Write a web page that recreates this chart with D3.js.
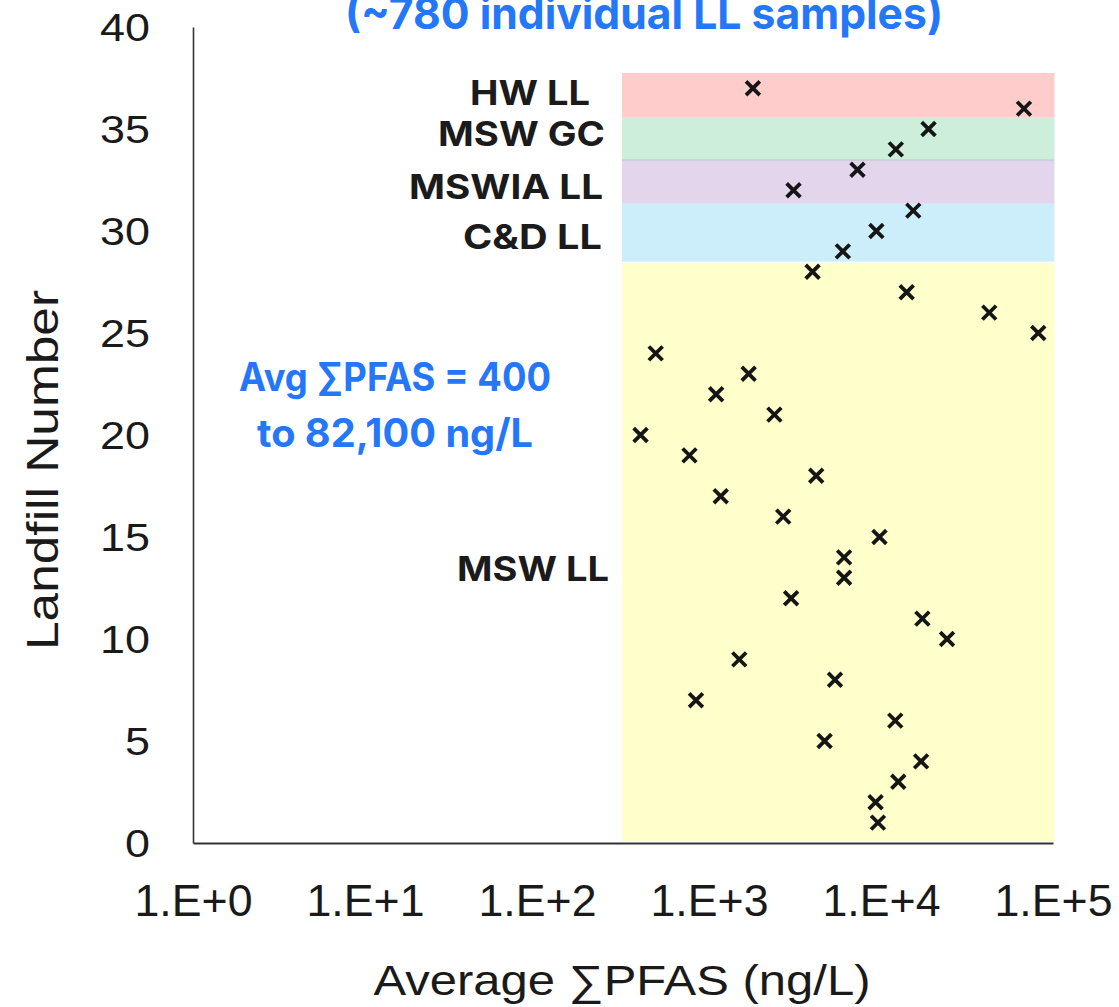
<!DOCTYPE html>
<html>
<head>
<meta charset="utf-8">
<script src="https://cdn.jsdelivr.net/npm/d3@7"></script>
<style>
  html, body { margin: 0; padding: 0; background: #ffffff; }
  svg { display: block; }
</style>
</head>
<body>
<svg id="chart" width="1119" height="1007"></svg>
<script>
// ---- data ----
const landfillNumbers = [1,2,3,4,5,6,7,8,9,10,11,12,13,14,15,16,17,18,19,20,21,22,23,24,25,26,27,28,29,30,31,32,33,34,35,36,37];
const avgPFAS = [9600,9300,12600,17100,4700,12100,840,5400,1500,24200,17400,3000,6100,6100,9800,2700,1170,4200,770,400,2400,1100,1700,490,82100,42600,14100,4000,6000,9400,15400,3100,7300,12200,18900,67800,1800];
const groupNames = ["MSW LL", "C&D LL", "MSWIA LL", "MSW GC", "HW LL"];
const groupLow  = [0.1, 28.5, 31.34, 33.48, 35.59];
const groupHigh = [28.43, 31.34, 33.48, 35.59, 37.75];
const groupColors = ["#FFFFCC", "#CCEEFA", "#E2D5EC", "#CCEEDB", "#FFCCCC"];
const groupXRange = [312, 102000];
const xTickValues = [1, 10, 100, 1000, 10000, 100000];
const xTickLabels = ["1.E+0", "1.E+1", "1.E+2", "1.E+3", "1.E+4", "1.E+5"];
const yTickValues = [0, 5, 10, 15, 20, 25, 30, 35, 40];
const titleText = "(~780 individual LL samples)";
const noteLines = ["Avg ∑PFAS = 400", "to 82,100 ng/L"];
const xTitle = "Average ∑PFAS (ng/L)";
const yTitle = "Landfill Number";

// ---- layout ----
const svg = d3.select("#chart");
const x = d3.scaleLog().domain([1, 100000]).range([193, 1053]);
const y = d3.scaleLinear().domain([0, 40]).range([843, 27]);

// bands
svg.append("g").selectAll("rect")
  .data(groupNames.map((n, i) => ({n, lo: groupLow[i], hi: groupHigh[i], c: groupColors[i]})))
  .join("rect")
  .attr("x", x(groupXRange[0]))
  .attr("width", x(groupXRange[1]) - x(groupXRange[0]))
  .attr("y", d => y(d.hi))
  .attr("height", d => y(d.lo) - y(d.hi))
  .attr("fill", d => d.c);

// thin separator between green and purple
svg.append("line")
  .attr("x1", x(groupXRange[0])).attr("x2", x(groupXRange[1]))
  .attr("y1", y(groupLow[3])).attr("y2", y(groupLow[3]))
  .attr("stroke", "#B4CCC4").attr("stroke-width", 1);

// axes
const xAxis = d3.axisBottom(x).tickValues(xTickValues).tickSize(0).tickSizeOuter(0)
  .tickFormat((d, i) => xTickLabels[i]);
const gx = svg.append("g").attr("transform", "translate(0,843)").call(xAxis);
gx.select(".domain").attr("stroke", "#333").attr("stroke-width", 2.2);
gx.selectAll("text")
  .attr("y", 73).attr("dy", 0)
  .attr("font-family", "'Liberation Sans', Arial, sans-serif")
  .attr("font-size", 44)
  .attr("fill", "#1a1a1a")
  .attr("textLength", 118)
  .attr("lengthAdjust", "spacingAndGlyphs");

const yAxis = d3.axisLeft(y).tickValues(yTickValues).tickSize(0).tickSizeOuter(0);
const gy = svg.append("g").attr("transform", "translate(193,0)").call(yAxis);
gy.select(".domain").attr("stroke", "#333").attr("stroke-width", 1.6);
gy.selectAll("text")
  .attr("x", -43).attr("dy", "0.35em")
  .attr("font-family", "'Liberation Sans', Arial, sans-serif")
  .attr("font-size", 38)
  .attr("fill", "#1a1a1a")
  .attr("textLength", d => String(d).length * 25)
  .attr("lengthAdjust", "spacingAndGlyphs");

// group labels
const labelRight = [609, 602, 603, 605, 590];
const labelBase = [581, 249, 199, 146, 105];
const labelWidth = [152, 139, 194, 167, 120];
svg.append("g").selectAll("text")
  .data(groupNames)
  .join("text")
  .attr("x", (d, i) => labelRight[i])
  .attr("y", (d, i) => labelBase[i])
  .attr("text-anchor", "end")
  .attr("font-family", "Inter, 'Noto Sans', sans-serif")
  .attr("font-weight", 700)
  .attr("font-size", 34)
  .attr("fill", "#1b1b1b")
  .attr("textLength", (d, i) => labelWidth[i])
  .attr("lengthAdjust", "spacingAndGlyphs")
  .text(d => d);

// blue note
const noteBase = [391, 447];
const noteWidth = [312, 276];
svg.append("g").selectAll("text")
  .data(noteLines)
  .join("text")
  .attr("x", 395)
  .attr("y", (d, i) => noteBase[i])
  .attr("text-anchor", "middle")
  .attr("font-family", "Inter, 'Noto Sans', sans-serif")
  .attr("font-weight", 700)
  .attr("font-size", 39)
  .attr("fill", "#2477F8")
  .attr("textLength", (d, i) => noteWidth[i])
  .attr("lengthAdjust", "spacingAndGlyphs")
  .text(d => d);

// title (clipped at top, as in the reference)
svg.append("text")
  .attr("x", 644).attr("y", 29)
  .attr("text-anchor", "middle")
  .attr("font-family", "Inter, 'Noto Sans', sans-serif")
  .attr("font-weight", 700)
  .attr("font-size", 44)
  .attr("fill", "#2477F8")
  .attr("textLength", 598)
  .attr("lengthAdjust", "spacingAndGlyphs")
  .text(titleText);

// markers
const sym = d3.symbol().type(d3.symbolX).size(125);
svg.append("g").selectAll("path")
  .data(landfillNumbers.map((n, i) => ({n, v: avgPFAS[i]})))
  .join("path")
  .attr("d", sym)
  .attr("transform", d => `translate(${x(d.v)},${y(d.n)})`)
  .attr("fill", "none")
  .attr("stroke", "#151515")
  .attr("stroke-width", 3.8);

// axis titles
svg.append("text")
  .attr("x", 622).attr("y", 995)
  .attr("text-anchor", "middle")
  .attr("font-family", "'Liberation Sans', Arial, sans-serif")
  .attr("font-size", 42)
  .attr("fill", "#1a1a1a")
  .attr("textLength", 497)
  .attr("lengthAdjust", "spacingAndGlyphs")
  .text(xTitle);

svg.append("text")
  .attr("transform", "translate(58,470) rotate(-90)")
  .attr("text-anchor", "middle")
  .attr("font-family", "'Liberation Sans', Arial, sans-serif")
  .attr("font-size", 44)
  .attr("fill", "#1a1a1a")
  .attr("textLength", 360)
  .attr("lengthAdjust", "spacingAndGlyphs")
  .text(yTitle);
</script>
</body>
</html>
